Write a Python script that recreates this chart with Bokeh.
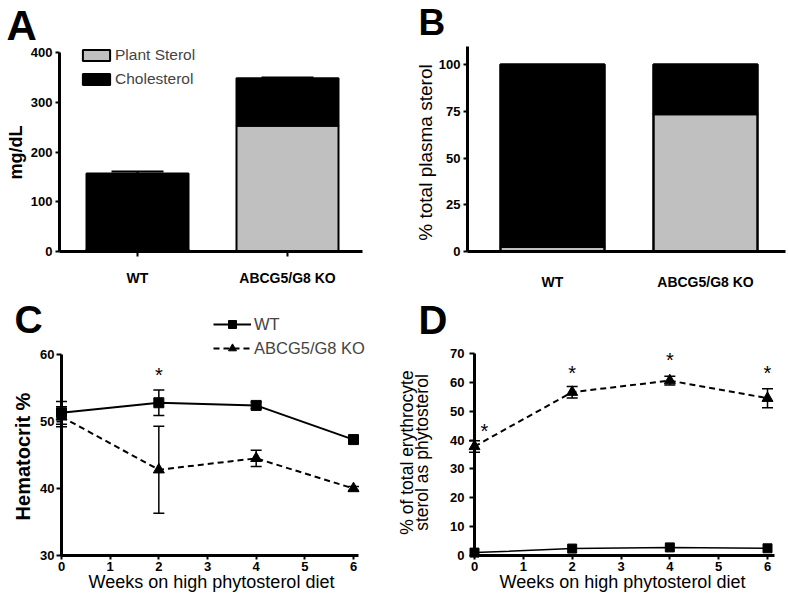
import numpy as np
from math import pi
from bokeh.plotting import figure
from bokeh.models import (Range1d, FixedTicker, Legend, LegendItem, Label,
                          Whisker, ColumnDataSource, TeeHead)
from bokeh.layouts import column, row
from bokeh.core.properties import value
from bokeh.embed import file_html
from bokeh.resources import INLINE

# ---------------- data ----------------
categories = ["WT", "ABCG5/G8 KO"]
a_plant_sterol = [4, 253]          # mg/dL
a_cholesterol = [153, 95]          # mg/dL
a_total_sem = [4, 2]
b_plant_pct = [2.5, 73.5]          # % total plasma sterol
b_chol_pct = [97.5, 26.5]

weeks = [0, 2, 4, 6]
c_wt = [51.3, 52.8, 52.4, 47.3]    # hematocrit %
c_wt_sem = [1.7, 1.9, 0.5, 0.4]
c_ko = [50.7, 42.8, 44.5, 40.0]
c_ko_sem = [1.5, 6.5, 1.2, 0.3]
c_star_x = [2]
c_star_y = [57.0]

d_wt = [1.0, 2.4, 2.8, 2.5]        # % erythrocyte sterol as phytosterol
d_ko = [37.8, 56.6, 60.6, 54.5]
d_ko_sem = [2.0, 2.0, 1.5, 3.3]
d_star_x = [0.2, 2, 4, 6]
d_star_y = [43.3, 63.4, 67.6, 63.1]

FONT = "Liberation Sans"
GRAY = "#c0c0c0"
TOP_H = 290
BOT_H = 315


class Panel:
    """Figure whose frame fills the canvas; page-pixel calibration -> data."""

    def __init__(self, box, xcal, ycal):
        self.left, self.top, self.right, self.bottom = box
        (px0, vx0), (px1, vx1) = xcal
        (py0, vy0), (py1, vy1) = ycal
        self.kx = (vx1 - vx0) / (px1 - px0)
        self.ky = (vy1 - vy0) / (py1 - py0)
        self.px0, self.vx0, self.py0, self.vy0 = px0, vx0, py0, vy0
        w = self.right - self.left
        h = self.bottom - self.top
        self.p = figure(width=w, height=h,
                        x_range=Range1d(self.X(self.left), self.X(self.right)),
                        y_range=Range1d(self.Y(self.bottom), self.Y(self.top)),
                        output_backend="svg", toolbar_location=None,
                        min_border=0, min_border_left=0, min_border_right=0,
                        min_border_top=0, min_border_bottom=0)
        p = self.p
        p.grid.visible = False
        p.outline_line_color = None
        p.background_fill_color = "white"
        p.border_fill_color = "white"
        for ax in p.axis:
            ax.axis_line_width = 3
            ax.axis_line_color = "black"
            ax.major_tick_line_width = 2
            ax.major_tick_line_color = "black"
            ax.major_tick_in = 0
            ax.major_tick_out = 5
            ax.minor_tick_line_color = None
            ax.major_label_text_font = FONT
            ax.major_label_text_font_style = "bold"
            ax.major_label_text_font_size = "13px"
            ax.major_label_text_color = "black"
            ax.major_label_standoff = 2

    def X(self, px):
        return self.vx0 + (px - self.px0) * self.kx

    def Y(self, py):
        return self.vy0 + (py - self.py0) * self.ky

    def label(self, px, py, text, size, bold=False, angle=0.0, align="center"):
        self.p.add_layout(Label(x=self.X(px), y=self.Y(py), text=text, angle=angle,
                                text_align=align, text_baseline="middle",
                                text_font=FONT, text_font_size=f"{size}px",
                                text_font_style="bold" if bold else "normal",
                                text_color="black"))

    def legend_loc(self, px_left, py_bottom):
        return (px_left - self.left, self.bottom - py_bottom)


xpos = list(range(len(categories)))
overrides = {i: c for i, c in enumerate(categories)}

# ---------------- Panel A ----------------
A = Panel((0, 0, 394, TOP_H), ((137, 0), (287, 1)), ((251, 0), (52, 400)))
pA = A.p
totA = np.array(a_plant_sterol) + np.array(a_cholesterol)
srcA = ColumnDataSource(dict(x=xpos, plant=a_plant_sterol, chol=a_cholesterol,
                             upper=totA + np.array(a_total_sem),
                             lower=totA - np.array(a_total_sem)))
rA = pA.vbar_stack(["plant", "chol"], x="x", width=0.68, source=srcA,
                   fill_color=[GRAY, "black"], line_color="black", line_width=2)
pA.add_layout(Whisker(source=srcA, base="x", upper="upper", lower="lower",
                      dimension="height", line_width=2, line_color="black",
                      upper_head=TeeHead(size=52, line_width=2, line_color="black"),
                      lower_head=TeeHead(size=52, line_width=2, line_color="black")))
pA.yaxis.fixed_location = A.X(59)
pA.yaxis.bounds = (0, 400)
pA.yaxis.ticker = FixedTicker(ticks=[0, 100, 200, 300, 400])
pA.yaxis.major_tick_out = 4
pA.yaxis.major_label_standoff = 3
pA.xaxis.fixed_location = 0
pA.xaxis.bounds = (A.X(59), A.X(362))
pA.xaxis.ticker = FixedTicker(ticks=xpos)
pA.xaxis.major_label_overrides = overrides
pA.xaxis.major_label_text_font_size = "14px"
pA.xaxis.major_label_standoff = 13
legA = Legend(items=[LegendItem(label="Plant Sterol", renderers=[rA[0]]),
                     LegendItem(label="Cholesterol", renderers=[rA[1]])],
              location=A.legend_loc(79, 88), border_line_color=None,
              background_fill_alpha=0, padding=0, margin=0, spacing=6,
              glyph_width=34, glyph_height=14, label_height=14, label_standoff=2,
              label_text_font=FONT, label_text_font_size="15.5px")
pA.add_layout(legA)
A.label(15, 152, "mg/dL", 18, bold=True, angle=pi / 2)
A.label(6, 24.5, "A", 42, bold=True, align="left")

# ---------------- Panel B ----------------
B = Panel((394, 0, 788, TOP_H), ((552, 0), (705, 1)), ((251, 0), (64, 100)))
pB = B.p
srcB = ColumnDataSource(dict(x=xpos, plant=b_plant_pct, chol=b_chol_pct))
pB.vbar_stack(["plant", "chol"], x="x", width=0.68, source=srcB,
              fill_color=[GRAY, "black"], line_color="black", line_width=2.5)
pB.yaxis.fixed_location = B.X(467)
pB.yaxis.bounds = (0, B.Y(46))
pB.yaxis.ticker = FixedTicker(ticks=[0, 25, 50, 75, 100])
pB.yaxis.major_tick_out = 4
pB.yaxis.major_label_standoff = 3
pB.xaxis.fixed_location = 0
pB.xaxis.bounds = (B.X(467), B.X(785))
pB.xaxis.ticker = FixedTicker(ticks=xpos)
pB.xaxis.major_label_overrides = overrides
pB.xaxis.major_label_text_font_size = "14px"
pB.xaxis.major_tick_out = 0
pB.xaxis.major_tick_line_color = None
pB.xaxis.major_label_standoff = 22
B.label(425, 152, "% total plasma sterol", 19, angle=pi / 2)
B.label(418, 21.5, "B", 37, bold=True, align="left")

# ---------------- Panel C ----------------
C = Panel((0, TOP_H, 394, TOP_H + BOT_H), ((61, 0), (353, 6)), ((555, 30), (354, 60)))
pC = C.p
pC.yaxis.fixed_location = 0
pC.yaxis.bounds = (30, 60)
pC.yaxis.ticker = FixedTicker(ticks=[30, 40, 50, 60])
pC.xaxis.fixed_location = 30
pC.xaxis.bounds = (0, C.X(358))
pC.xaxis.ticker = FixedTicker(ticks=[0, 1, 2, 3, 4, 5, 6])
pC.xaxis.major_tick_out = 4
srcCw = ColumnDataSource(dict(x=weeks, y=c_wt, upper=np.array(c_wt) + np.array(c_wt_sem),
                              lower=np.array(c_wt) - np.array(c_wt_sem)))
srcCk = ColumnDataSource(dict(x=weeks, y=c_ko, upper=np.array(c_ko) + np.array(c_ko_sem),
                              lower=np.array(c_ko) - np.array(c_ko_sem)))
for s in (srcCw, srcCk):
    pC.add_layout(Whisker(source=s, base="x", upper="upper", lower="lower",
                          dimension="height", line_width=1.5, line_color="black",
                          upper_head=TeeHead(size=11, line_width=1.5, line_color="black"),
                          lower_head=TeeHead(size=11, line_width=1.5, line_color="black")))
lCw = pC.line("x", "y", source=srcCw, line_width=2, line_color="black")
mCw = pC.scatter("x", "y", source=srcCw, marker="square", size=10, color="black")
lCk = pC.line("x", "y", source=srcCk, line_width=2, line_color="black", line_dash="6 4")
mCk = pC.scatter("x", "y", source=srcCk, marker="triangle", size=11, color="black")
pC.text(x=c_star_x, y=c_star_y, text=["*"] * len(c_star_x), text_font=value(FONT),
        text_font_size="20px", text_align="center", text_baseline="middle",
        text_color="black")
legC = Legend(items=[LegendItem(label="WT", renderers=[lCw, mCw]),
                     LegendItem(label="ABCG5/G8 KO", renderers=[lCk, mCk])],
              location=C.legend_loc(213, 358), border_line_color=None,
              background_fill_alpha=0, padding=0, margin=0, spacing=4,
              glyph_width=38, glyph_height=20, label_height=20, label_standoff=3,
              label_text_font=FONT, label_text_font_size="16.5px")
pC.add_layout(legC)
C.label(22.5, 456, "Hematocrit %", 20, bold=True, angle=pi / 2)
C.label(211, 581, "Weeks on high phytosterol diet", 18)
C.label(14, 319, "C", 39, bold=True, align="left")

# ---------------- Panel D ----------------
D = Panel((394, TOP_H, 788, TOP_H + BOT_H), ((474, 0), (767, 6)), ((555, 0), (353, 70)))
pD = D.p
pD.yaxis.fixed_location = 0
pD.yaxis.bounds = (0, 70)
pD.yaxis.ticker = FixedTicker(ticks=[0, 10, 20, 30, 40, 50, 60, 70])
pD.yaxis.major_label_standoff = 5
pD.xaxis.fixed_location = 0
pD.xaxis.bounds = (0, D.X(774))
pD.xaxis.ticker = FixedTicker(ticks=[0, 1, 2, 3, 4, 5, 6])
pD.xaxis.major_tick_out = 4
srcDw = ColumnDataSource(dict(x=weeks, y=d_wt))
srcDk = ColumnDataSource(dict(x=weeks, y=d_ko, upper=np.array(d_ko) + np.array(d_ko_sem),
                              lower=np.array(d_ko) - np.array(d_ko_sem)))
pD.add_layout(Whisker(source=srcDk, base="x", upper="upper", lower="lower",
                      dimension="height", line_width=1.5, line_color="black",
                      upper_head=TeeHead(size=11, line_width=1.5, line_color="black"),
                      lower_head=TeeHead(size=11, line_width=1.5, line_color="black")))
pD.line("x", "y", source=srcDw, line_width=1.5, line_color="black")
pD.scatter("x", "y", source=srcDw, marker="square", size=9, color="black")
pD.line("x", "y", source=srcDk, line_width=2, line_color="black", line_dash="6 4")
pD.scatter("x", "y", source=srcDk, marker="triangle", size=11, color="black")
pD.text(x=d_star_x, y=d_star_y, text=["*"] * len(d_star_x), text_font=value(FONT),
        text_font_size="20px", text_align="center", text_baseline="middle",
        text_color="black")
D.label(406, 452, "% of total erythrocyte", 17.5, angle=pi / 2)
D.label(421, 452, "sterol as phytosterol", 17.5, angle=pi / 2)
D.label(622, 581, "Weeks on high phytosterol diet", 18)
D.label(418, 319, "D", 40, bold=True, align="left")

layout = column(row(pA, pB), row(pC, pD))
open("out.html", "w").write(file_html(layout, INLINE))
